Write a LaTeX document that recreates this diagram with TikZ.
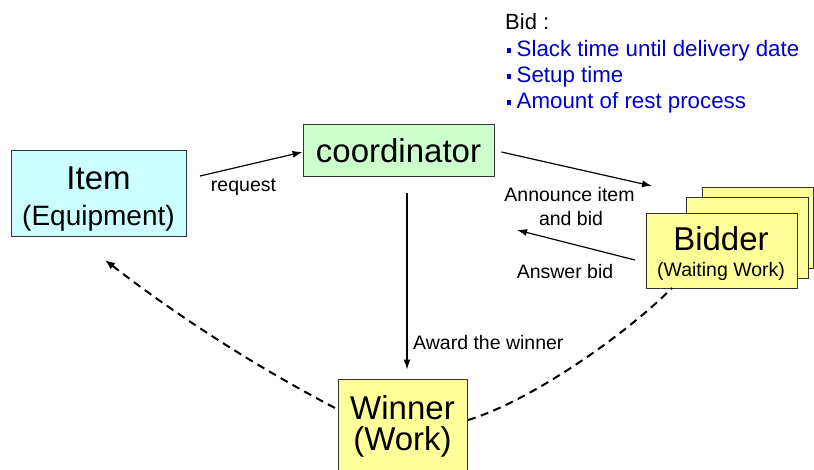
\documentclass[tikz,border=0pt]{standalone}
\usepackage{fontspec}
\setmainfont{Liberation Sans}
\usetikzlibrary{arrows.meta}

\definecolor{itemfill}{HTML}{CCFFFF}
\definecolor{coordfill}{HTML}{CCFFCC}
\definecolor{workfill}{HTML}{FFFF99}
\definecolor{bidblue}{HTML}{0000CC}
\definecolor{edgegray}{HTML}{333333}

\newcommand{\fsz}[1]{\fontsize{#1}{#1}\selectfont}
\newcommand{\bidbullet}{\rule[4pt]{4.5pt}{4.5pt}\hspace{5.5pt}}

\begin{document}
\begin{tikzpicture}[x=1pt,y=-1pt,
  box/.style={draw=edgegray,line width=0.9pt,inner sep=0pt},
  txt/.style={inner sep=0pt,anchor=base},
  lbl/.style={inner sep=0pt,anchor=base,font=\fsz{19.5}},
  bidline/.style={inner sep=0pt,anchor=base west,font=\fsz{22.3},text=bidblue},
  flow/.style={line width=1.2pt,-{Latex[length=10pt,width=7pt]}},
  relay/.style={line width=2pt,dash pattern=on 8pt off 5.5pt,-{Latex[length=10pt,width=8pt]}}]
\useasboundingbox (0,0) rectangle (814,469);
\clip (0,0) rectangle (814,469);

% boxes
\node[box,fill=itemfill,minimum width=175pt,minimum height=86pt] (item) at (98.5,193) {};
\node[box,fill=coordfill,minimum width=191pt,minimum height=52pt] (coord) at (398.5,150) {};
\node[box,fill=workfill,minimum width=111pt,minimum height=81pt] (bidderC) at (757.5,227.5) {};
\node[box,fill=workfill,minimum width=122pt,minimum height=81pt] (bidderB) at (747,237.5) {};
\node[box,fill=workfill,minimum width=151pt,minimum height=75pt] (bidder) at (721.5,250.5) {};
\node[box,fill=workfill,minimum width=129pt,minimum height=101pt] (winner) at (402.5,429.5) {};

% box texts
\node[txt,font=\fsz{33}] (itemA) at (98.5,189) {Item};
\node[txt,font=\fsz{28}] (itemB) at (98.5,225) {(Equipment)};
\node[txt,font=\fsz{33}] (coordT) at (398.5,162.5) {coordinator};
\node[txt,font=\fsz{33}] (bidderA) at (721,250) {Bidder};
\node[txt,font=\fsz{19.5}] (bidderBT) at (721,276.5) {(Waiting Work)};
\node[txt,font=\fsz{33}] (winnerA) at (402.5,419) {Winner};
\node[txt,font=\fsz{33}] (winnerB) at (402.5,450) {(Work)};

% bid contents
\node[inner sep=0pt,anchor=base west,font=\fsz{22}] (bidhead) at (505,29.3) {Bid :};
\node[bidline] (bid1) at (506.5,56.7) {\bidbullet Slack time until delivery date};
\node[bidline] (bid2) at (506.5,82.7) {\bidbullet Setup time};
\node[bidline] (bid3) at (506.5,108.5) {\bidbullet Amount of rest process};

% connector end points
\coordinate (reqS) at (200,176);
\coordinate (annS) at ([xshift=7pt,yshift=-2pt]coord.east);
\coordinate (annE) at (652,186);
\coordinate (ansS) at (635,260);
\coordinate (ansE) at (517,230);
\coordinate (awdS) at (407,193);
\coordinate (wL) at (335,408);
\coordinate (itemT) at (105,260);
\coordinate (wR) at (468,420);
\coordinate (bidB) at (672,288);

% connectors
\draw[flow] (reqS) -- ([yshift=-2pt]coord.west);
\draw[flow] (annS) -- (annE);
\draw[flow] (ansS) -- (ansE);
\draw[flow,shorten >=9pt] (awdS) -- (awdS |- winner.north);
\draw[relay] (wL) .. controls (254,365.4) and (177.4,316) .. (itemT);
\draw[relay,-] (wR) .. controls (528,402) and (622,338) .. (bidB);

% connector labels
\node[lbl] (reqL) at (243.5,191.5) {request};
\node[lbl] (annL1) at (569.5,201.7) {Announce item};
\node[lbl] (annL2) at (571,225) {and bid};
\node[lbl] (ansL) at (565,278) {Answer bid};
\node[lbl,anchor=base west] (awdL) at (413,349.3) {Award the winner};
\end{tikzpicture}
\end{document}
